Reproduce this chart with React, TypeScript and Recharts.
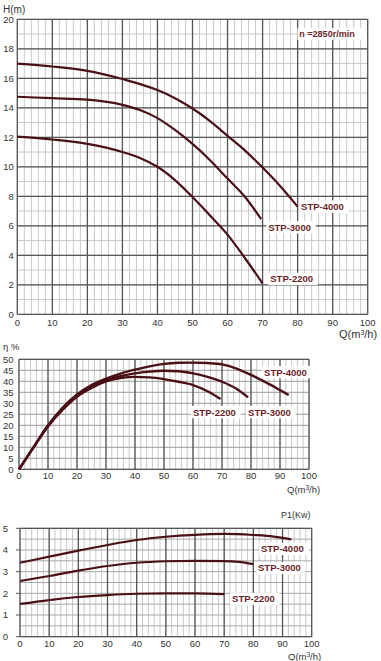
import React from 'react';
import { LineChart, Line, XAxis, YAxis, CartesianGrid, ReferenceDot } from 'recharts';

// ---------- tick labels / grid values ----------
const qTicks = [0, 10, 20, 30, 40, 50, 60, 70, 80, 90, 100];
const qMinor = Array.from({ length: 51 }, (_, i) => i * 2);
const hTicks = [0, 2, 4, 6, 8, 10, 12, 14, 16, 18, 20];
const hMinor = Array.from({ length: 21 }, (_, i) => i);
const etaTicks = [0, 5, 10, 15, 20, 25, 30, 35, 40, 45, 50];
const pTicks = [0, 1, 2, 3, 4, 5];
const pMinor = Array.from({ length: 11 }, (_, i) => i * 0.5);

// ---------- H-Q curves ----------
const hq4000Q = [0, 10, 20, 30, 40, 45, 50, 55, 60, 65, 70, 75, 80];
const hq4000H = [17.0, 16.8, 16.5, 15.95, 15.2, 14.65, 13.95, 13.1, 12.1, 11.1, 9.95, 8.7, 7.3];
const hq3000Q = [0, 10, 20, 30, 35, 40, 45, 50, 55, 60, 65, 69.6];
const hq3000H = [14.75, 14.65, 14.55, 14.2, 13.85, 13.3, 12.5, 11.55, 10.45, 9.2, 7.95, 6.45];
const hq2200Q = [0, 10, 20, 30, 35, 40, 45, 50, 55, 60, 65, 70];
const hq2200H = [12.05, 11.85, 11.55, 11.0, 10.6, 10.0, 9.1, 7.95, 6.7, 5.4, 3.8, 2.1];

// ---------- efficiency curves ----------
const eta2200Q = [0, 5, 10, 15, 20, 25, 30, 35, 40, 45, 50, 55, 60, 65, 69.5];
const eta2200V = [0, 10, 19.5, 27, 33, 37, 40, 41.5, 42, 41.8, 41, 39.8, 38.3, 35.5, 32];
const eta3000Q = [0, 5, 10, 15, 20, 25, 30, 35, 40, 45, 50, 55, 60, 65, 70, 75, 79];
const eta3000V = [0, 10, 19.8, 27.5, 33.5, 37.8, 40.5, 42.3, 43.6, 44.4, 44.8, 44.6, 43.6, 42, 39.8, 36.6, 32.7];
const eta4000Q = [0, 5, 10, 15, 20, 25, 30, 35, 40, 45, 50, 55, 60, 65, 70, 75, 80, 85, 90, 93];
const eta4000V = [0, 10, 20, 28, 34, 38.3, 41.2, 43.5, 45.3, 46.8, 47.9, 48.4, 48.5, 48.3, 47.7, 45.8, 42.9, 39.6, 36, 33.8];

// ---------- power curves ----------
const p4000Q = [0, 10, 20, 30, 40, 50, 60, 70, 80, 87, 93];
const p4000V = [3.41, 3.69, 3.97, 4.23, 4.46, 4.61, 4.7, 4.74, 4.69, 4.62, 4.49];
const p3000Q = [0, 10, 20, 30, 40, 50, 60, 70, 75, 80];
const p3000V = [2.57, 2.8, 3.05, 3.26, 3.41, 3.48, 3.5, 3.49, 3.45, 3.35];
const p2200Q = [0, 10, 20, 30, 40, 50, 60, 70];
const p2200V = [1.51, 1.69, 1.83, 1.92, 1.98, 2.0, 2.0, 1.96];

// ---------- labels ----------
const models = ['STP-4000', 'STP-3000', 'STP-2200'];
const speedText = 'n =2850r/min';

const zip = (q: number[], v: number[]) => q.map((x, i) => ({ q: x, v: v[i] }));

const FONT = '"Liberation Sans", Arial, sans-serif';
const CURVE = '#4a1016';
const LABEL = '#6b1e28';
const MAJOR = '#555';
const MINOR = '#c9c9c9';

function Tag(props: any) {
  const vb = props.viewBox || {};
  const size = props.size || 9.5;
  const text: string = props.text;
  const x = (vb.x || 0) + (props.dx || 0);
  const y = (vb.y || 0) + (props.dy || 0);
  const w = text.length * size * 0.6;
  return (
    <g>
      <rect x={x - 2} y={y - size * 0.65} width={w + 4} height={size * 1.3} fill="#fff" />
      <text
        x={x}
        y={y}
        dominantBaseline="central"
        fontFamily={FONT}
        fontWeight="bold"
        fontSize={size}
        fill={LABEL}
      >
        {text}
      </text>
    </g>
  );
}

const tickStyle = { fontSize: 9.5, fill: '#333', fontFamily: FONT };

function AxisTitle({ x, y, children, size = 10 }: any) {
  return (
    <div
      style={{
        position: 'absolute',
        left: x,
        top: y,
        fontFamily: FONT,
        fontSize: size,
        color: '#333',
        lineHeight: 1,
        whiteSpace: 'nowrap',
      }}
    >
      {children}
    </div>
  );
}

function Cube({ size }: { size: number }) {
  return (
    <span style={{ fontSize: size, position: 'relative', top: -size * 0.5, lineHeight: 0 }}>3</span>
  );
}

export default function App() {
  return (
    <div style={{ position: 'absolute', left: 0, top: 0, width: 381, height: 661, background: '#fff', overflow: 'hidden' }}>
      {/* H-Q chart */}
      <div style={{ position: 'absolute', left: 0, top: 0 }}>
        <LineChart width={381} height={340} margin={{ top: 19.3, right: 13.3, bottom: 0, left: 0 }}>
          <CartesianGrid verticalValues={qMinor} horizontalValues={hMinor} stroke={MINOR} strokeWidth={1} fill="none" syncWithTicks={false} />
          <CartesianGrid verticalValues={qTicks} horizontalValues={hTicks} stroke={MAJOR} strokeWidth={1.3} fill="none" syncWithTicks={false} />
          <XAxis type="number" dataKey="q" domain={[0, 100]} ticks={qTicks} height={25.7} tickSize={0} tickMargin={5} axisLine={false} tickLine={false} tick={tickStyle} interval={0} />
          <YAxis type="number" dataKey="v" domain={[0, 20]} ticks={hTicks} width={17.3} tickSize={0} tickMargin={3.5} axisLine={false} tickLine={false} tick={tickStyle} interval={0} />
          <Line data={zip(hq4000Q, hq4000H)} dataKey="v" type="monotone" stroke={CURVE} strokeWidth={2.2} dot={false} isAnimationActive={false} />
          <Line data={zip(hq3000Q, hq3000H)} dataKey="v" type="monotone" stroke={CURVE} strokeWidth={2.2} dot={false} isAnimationActive={false} />
          <Line data={zip(hq2200Q, hq2200H)} dataKey="v" type="monotone" stroke={CURVE} strokeWidth={2.2} dot={false} isAnimationActive={false} />
          <ReferenceDot x={81} y={7.3} r={0} label={<Tag text={models[0]} size={9.5} />} />
          <ReferenceDot x={71.6} y={5.9} r={0} label={<Tag text={models[1]} size={9.5} />} />
          <ReferenceDot x={72.2} y={2.4} r={0} label={<Tag text={models[2]} size={9.5} />} />
          <ReferenceDot x={80.5} y={19.0} r={0} label={<Tag text={speedText} size={9} />} />
        </LineChart>
        <AxisTitle x={3} y={5} size={10}>H(m)</AxisTitle>
        <AxisTitle x={339} y={329} size={11}>Q(m<Cube size={7} />/h)</AxisTitle>
      </div>

      {/* Efficiency chart */}
      <div style={{ position: 'absolute', left: 0, top: 340 }}>
        <LineChart width={381} height={160} margin={{ top: 19.3, right: 72, bottom: 0, left: 0 }}>
          <CartesianGrid verticalValues={qMinor} horizontalValues={[]} horizontal={false} stroke={MINOR} strokeWidth={1} fill="none" syncWithTicks={false} />
          <CartesianGrid verticalValues={[]} vertical={false} horizontalValues={etaTicks} stroke="#9a9a9a" strokeWidth={1} fill="none" syncWithTicks={false} />
          <CartesianGrid verticalValues={qTicks} horizontal={false} horizontalValues={[]} stroke={MAJOR} strokeWidth={1.3} fill="none" syncWithTicks={false} />
          <CartesianGrid verticalValues={[]} vertical={false} horizontalValues={[0, 50]} stroke={MAJOR} strokeWidth={1.3} fill="none" syncWithTicks={false} />
          <XAxis type="number" dataKey="q" domain={[0, 100]} ticks={qTicks} height={30.7} tickSize={0} tickMargin={3} axisLine={false} tickLine={false} tick={tickStyle} interval={0} />
          <YAxis type="number" dataKey="v" domain={[0, 50]} ticks={etaTicks} width={19} tickSize={0} tickMargin={5.5} axisLine={false} tickLine={false} tick={tickStyle} interval={0} />
          <Line data={zip(eta4000Q, eta4000V)} dataKey="v" type="monotone" stroke={CURVE} strokeWidth={2.4} dot={false} isAnimationActive={false} />
          <Line data={zip(eta3000Q, eta3000V)} dataKey="v" type="monotone" stroke={CURVE} strokeWidth={2.4} dot={false} isAnimationActive={false} />
          <Line data={zip(eta2200Q, eta2200V)} dataKey="v" type="monotone" stroke={CURVE} strokeWidth={2.4} dot={false} isAnimationActive={false} />
          <ReferenceDot x={84.5} y={44.2} r={0} label={<Tag text={models[0]} size={9.5} />} />
          <ReferenceDot x={79} y={26} r={0} label={<Tag text={models[1]} size={9.5} />} />
          <ReferenceDot x={60} y={26} r={0} label={<Tag text={models[2]} size={9.5} />} />
        </LineChart>
        <AxisTitle x={3} y={2} size={9.5}>η %</AxisTitle>
        <AxisTitle x={287} y={145} size={9.5}>Q(m<Cube size={6.5} />/h)</AxisTitle>
      </div>

      {/* Power chart */}
      <div style={{ position: 'absolute', left: 0, top: 500 }}>
        <LineChart width={381} height={161} margin={{ top: 28.3, right: 69.3, bottom: 0, left: 0 }}>
          <CartesianGrid verticalValues={qMinor} horizontal={false} horizontalValues={[]} stroke={MINOR} strokeWidth={1} fill="none" syncWithTicks={false} />
          <CartesianGrid verticalValues={[]} vertical={false} horizontalValues={pMinor} stroke="#a8a8a8" strokeWidth={1} fill="none" syncWithTicks={false} />
          <CartesianGrid verticalValues={qTicks} horizontal={false} horizontalValues={[]} stroke={MAJOR} strokeWidth={1.3} fill="none" syncWithTicks={false} />
          <CartesianGrid verticalValues={[]} vertical={false} horizontalValues={[0, 5]} stroke={MAJOR} strokeWidth={1.3} fill="none" syncWithTicks={false} />
          <XAxis type="number" dataKey="q" domain={[0, 100]} ticks={qTicks} height={24.3} tickSize={0} tickMargin={4} axisLine={false} tickLine={false} tick={tickStyle} interval={0} />
          <YAxis type="number" dataKey="v" domain={[0, 5]} ticks={pTicks} width={20} tickSize={4} tickMargin={8} axisLine={false} tickLine={{ stroke: MAJOR }} tick={tickStyle} interval={0} />
          <Line data={zip(p4000Q, p4000V)} dataKey="v" type="monotone" stroke={CURVE} strokeWidth={2.2} dot={false} isAnimationActive={false} />
          <Line data={zip(p3000Q, p3000V)} dataKey="v" type="monotone" stroke={CURVE} strokeWidth={2.2} dot={false} isAnimationActive={false} />
          <Line data={zip(p2200Q, p2200V)} dataKey="v" type="monotone" stroke={CURVE} strokeWidth={2.2} dot={false} isAnimationActive={false} />
          <ReferenceDot x={82.6} y={4.05} r={0} label={<Tag text={models[0]} size={9.5} />} />
          <ReferenceDot x={81.6} y={3.17} r={0} label={<Tag text={models[1]} size={9.5} />} />
          <ReferenceDot x={72.7} y={1.74} r={0} label={<Tag text={models[2]} size={9.5} />} />
        </LineChart>
        <AxisTitle x={281} y={11} size={9}>P1(Kw)</AxisTitle>
        <AxisTitle x={288} y={152} size={9.5}>Q(m<Cube size={6.5} />/h)</AxisTitle>
      </div>
    </div>
  );
}
